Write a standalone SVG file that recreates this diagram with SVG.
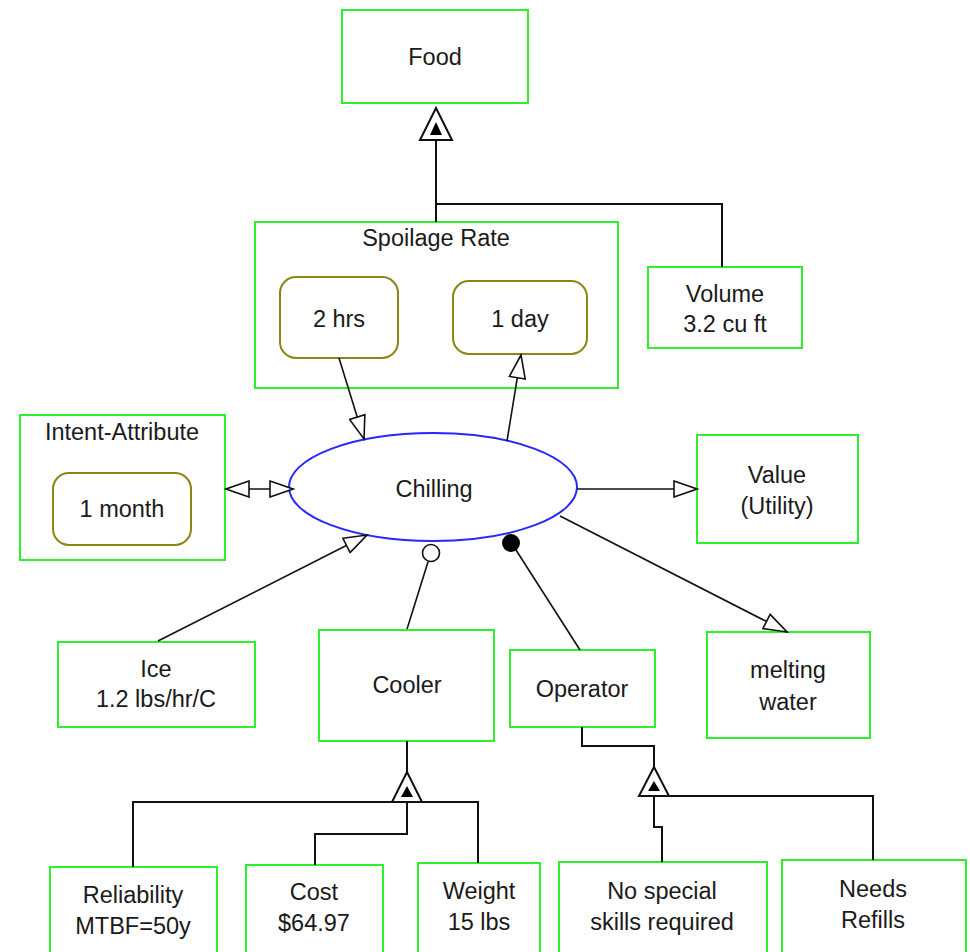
<svg xmlns="http://www.w3.org/2000/svg" width="970" height="952" viewBox="0 0 970 952">
<style>
.box{fill:#fff;stroke:#2ef02e;stroke-width:2}
.val{fill:#fff;stroke:#8c8414;stroke-width:2}
.t{font-family:"Liberation Sans",Arial,sans-serif;font-size:23.5px;fill:#1a1a1a;text-anchor:middle}
.c{fill:none;stroke:#111;stroke-width:2}
.a{fill:none;stroke:#111;stroke-width:1.6}
.gen{fill:#fff;stroke:#111;stroke-width:2}
.genin{fill:#000}
</style>
<defs>
<marker id="open" viewBox="0 0 26 18" refX="24" refY="9" markerWidth="26" markerHeight="18" markerUnits="userSpaceOnUse" orient="auto-start-reverse">
<path d="M1,1 L24,9 L1,17 Z" fill="#fff" stroke="#111" stroke-width="1.6"/>
</marker>
</defs>
<rect width="970" height="952" fill="#fff"/>

<g id="food"><rect class="box" x="342" y="10" width="186" height="93"/><text class="t" x="435" y="65">Food</text></g>

<g id="spoilage-rate"><rect class="box" x="255" y="222" width="363" height="166"/><text class="t" x="436" y="246">Spoilage Rate</text>
<g id="v-2hrs"><rect class="val" x="280" y="277" width="118" height="81" rx="16"/><text class="t" x="339" y="327">2 hrs</text></g>
<g id="v-1day"><rect class="val" x="453" y="281" width="134" height="73" rx="16"/><text class="t" x="520" y="327">1 day</text></g>
</g>

<g id="volume"><rect class="box" x="648" y="267" width="154" height="81"/><text class="t" x="725" y="302">Volume</text><text class="t" x="725" y="332">3.2 cu ft</text></g>

<g id="intent-attribute"><rect class="box" x="20" y="415" width="205" height="145"/><text class="t" x="122" y="440">Intent-Attribute</text>
<g id="v-1month"><rect class="val" x="53" y="473" width="138" height="72" rx="16"/><text class="t" x="122" y="517">1 month</text></g>
</g>

<g id="chilling"><ellipse cx="433" cy="487" rx="144" ry="54" fill="#fff" stroke="#2626ff" stroke-width="2"/><text class="t" x="434" y="497">Chilling</text></g>

<g id="value"><rect class="box" x="697" y="435" width="161" height="108"/><text class="t" x="777" y="483">Value</text><text class="t" x="777" y="514">(Utility)</text></g>

<g id="ice"><rect class="box" x="58" y="642" width="197" height="85"/><text class="t" x="156" y="677">Ice</text><text class="t" x="156" y="707">1.2 lbs/hr/C</text></g>

<g id="cooler"><rect class="box" x="319" y="630" width="175" height="111"/><text class="t" x="407" y="693">Cooler</text></g>

<g id="operator"><rect class="box" x="510" y="650" width="145" height="77"/><text class="t" x="582" y="697">Operator</text></g>

<g id="melting-water"><rect class="box" x="707" y="632" width="163" height="106"/><text class="t" x="788" y="678">melting</text><text class="t" x="788" y="710">water</text></g>

<g id="reliability"><rect class="box" x="50" y="867" width="167" height="90"/><text class="t" x="133" y="903">Reliability</text><text class="t" x="133" y="934">MTBF=50y</text></g>
<g id="cost"><rect class="box" x="246" y="865" width="137" height="92"/><text class="t" x="314" y="900">Cost</text><text class="t" x="314" y="931">$64.97</text></g>
<g id="weight"><rect class="box" x="418" y="863" width="122" height="94"/><text class="t" x="479" y="899">Weight</text><text class="t" x="479" y="930">15 lbs</text></g>
<g id="no-special-skills"><rect class="box" x="559" y="862" width="208" height="95"/><text class="t" x="662" y="899">No special</text><text class="t" x="662" y="930">skills required</text></g>
<g id="needs-refills"><rect class="box" x="782" y="860" width="184" height="97"/><text class="t" x="873" y="897">Needs</text><text class="t" x="873" y="928">Refills</text></g>

<g id="connectors">
<path class="c" d="M436,222 V140"/>
<path class="c" d="M436,204 H722 V267"/>
<path class="c" d="M407,741 V772"/>
<path class="c" d="M133,867 V802 H478 V863"/>
<path class="c" d="M407,802 V834 H315 V865"/>
<path class="c" d="M582,727 V746 H654 V767"/>
<path class="c" d="M670,796 H873 V860"/>
<path class="c" d="M654,796 V827 H662 V862"/>
<line class="a" x1="339" y1="358" x2="364" y2="439" marker-end="url(#open)"/>
<line class="a" x1="507" y1="441" x2="521" y2="355" marker-end="url(#open)"/>
<line class="a" x1="226" y1="489" x2="293" y2="489" marker-start="url(#open)" marker-end="url(#open)"/>
<line class="a" x1="577" y1="489" x2="697" y2="489" marker-end="url(#open)"/>
<line class="a" x1="560" y1="516" x2="787" y2="632" marker-end="url(#open)"/>
<line class="a" x1="158" y1="641" x2="367" y2="535" marker-end="url(#open)"/>
<line class="a" x1="407" y1="629" x2="428" y2="562"/>
<circle cx="431" cy="553" r="8.5" fill="#fff" stroke="#111" stroke-width="1.6"/>
<line class="a" x1="580" y1="650" x2="516" y2="550"/>
<circle cx="511" cy="543" r="9" fill="#000"/>
<path class="gen" d="M436,108 L452,140 L420,140 Z"/>
<path class="genin" d="M436,122 L442,135 L430,135 Z"/>
<path class="gen" d="M407,772 L422,802 L392,802 Z"/>
<path class="genin" d="M407,786 L413,797 L401,797 Z"/>
<path class="gen" d="M654,767 L669,796 L639,796 Z"/>
<path class="genin" d="M654,781 L660,791 L648,791 Z"/>
</g>
</svg>
